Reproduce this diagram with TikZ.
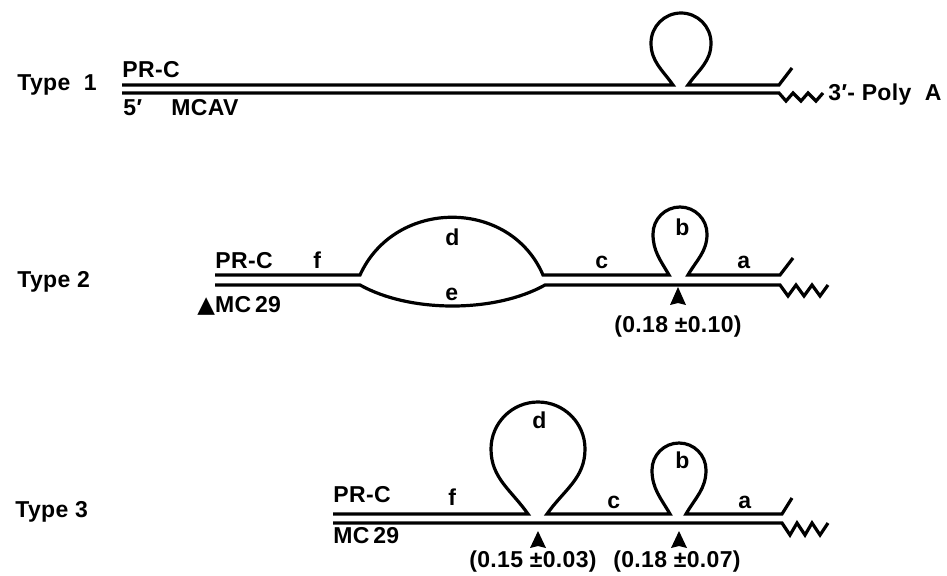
\documentclass[tikz,border=0pt]{standalone}
\usepackage{fontspec}
\setmainfont{Liberation Sans}[LetterSpace=1.5]
\newfontfamily\symfont{DejaVu Sans}

\tikzset{
  strand/.style={line width=1.6pt, line join=miter},
  lbl/.style={anchor=base west, inner sep=0pt, font=\fontsize{11.5}{13}\selectfont\bfseries},
  val/.style={lbl, anchor=base},
}

\begin{document}
\begin{tikzpicture}[x=0.5pt,y=0.5pt]
\useasboundingbox (0,0) rectangle (947,575);

% Type 1
\node[lbl] (type1) at (17,485) {Type\ \ 1};
\node[lbl] (prc1) at (122,498) {PR-C};
\node[lbl] (five1) at (123,460) {5′};
\node[lbl] (mcav1) at (171,460) {MCAV};
\node[lbl] (poly1) at (828,475) {3′-\ Poly\ \ A};

\draw[strand] (122,490) -- (673,490) to[out=125,in=-90] (651,532)
  arc[start angle=180,end angle=0,radius=30] to[out=-90,in=55] (688,490)
  -- (779,490) -- (792,507);
\draw[strand] (122,482) -- (779,482) -- ++(7,-8) -- ++(7,8) -- ++(8,-8)
  -- ++(7,8) -- ++(8,-8) -- ++(7,8);

% Type 2
\node[lbl] (type2) at (17,288) {Type 2};
\node[lbl] (prc2) at (215,307) {PR-C};
\node[lbl] (f2) at (313,307) {f};
\node[lbl] (d2) at (445,330) {d};
\node[lbl] (e2) at (445,275) {e};
\node[lbl] (c2) at (595,307) {c};
\node[lbl] (b2) at (675,340) {b};
\node[lbl] (a2) at (737,307) {a};
\node[lbl] (mc2) at (197,263) {{\symfont\fontsize{11.5}{13}\selectfont ▲}MC\,29};
\node[val] (val2) at (678,243) {(0.18 ±0.10)};

\draw[strand] (215,300) -- (360,300) .. controls (395,377) and (510,377) .. (543,300)
  -- (669,300) to[out=120,in=-90] (653,341)
  arc[start angle=180,end angle=0,radius=27] to[out=-90,in=60] (688,300)
  -- (780,300) -- (793,317);
\draw[strand] (215,290) -- (360,290) .. controls (410,262) and (495,262) .. (545,290)
  -- (780,290) -- ++(8,-11) -- ++(8,11) -- ++(8,-11) -- ++(8,11) -- ++(8,-11) -- ++(8,11);
\fill (678,288) -- (670,270) -- (678,272) -- (686,270) -- cycle;

% Type 3
\node[lbl] (type3) at (15,58) {Type 3};
\node[lbl] (prc3) at (333,73) {PR-C};
\node[lbl] (f3) at (448,70) {f};
\node[lbl] (d3) at (532,147) {d};
\node[lbl] (c3) at (607,67) {c};
\node[lbl] (b3) at (675,107) {b};
\node[lbl] (a3) at (738,67) {a};
\node[lbl] (mc3) at (333,32) {MC\,29};
\node[val] (val3d) at (533,8) {(0.15 ±0.03)};
\node[val] (val3b) at (677,8) {(0.18 ±0.07)};

\draw[strand] (333,61) -- (528,61) to[out=125,in=-90] (491,126)
  arc[start angle=180,end angle=0,radius=47] to[out=-90,in=55] (547,61)
  -- (670,61) to[out=120,in=-90] (652,105)
  arc[start angle=180,end angle=0,radius=27] to[out=-90,in=60] (686,61)
  -- (782,61) -- (792,77);
\draw[strand] (333,52) -- (782,52) -- ++(8,-12) -- ++(7,12) -- ++(8,-12)
  -- ++(7,12) -- ++(8,-12) -- ++(8,12);
\fill (538,44) -- (530,27) -- (538,29) -- (546,27) -- cycle;
\fill (679,44) -- (671,27) -- (679,29) -- (687,27) -- cycle;
\end{tikzpicture}
\end{document}
